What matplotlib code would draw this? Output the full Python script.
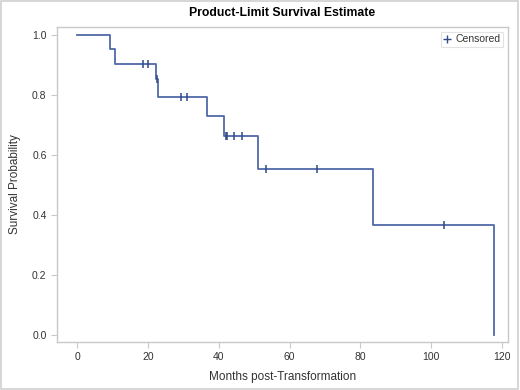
import matplotlib

matplotlib.use("Agg")
import matplotlib.pyplot as plt
from matplotlib.patches import Rectangle

# Kaplan-Meier step curve
STEP_TIMES = [0, 9.3, 10.7, 22.2, 22.8, 36.7, 41.6, 51.1, 83.7, 117.6]
STEP_SURV = [1.0, 0.953, 0.905, 0.852, 0.795, 0.729, 0.663, 0.552, 0.368, 0.0]
CENSOR_TIMES = [18.7, 20.0, 22.5, 29.3, 31.1, 42.0, 42.3, 44.4, 46.7, 53.4, 67.8, 103.5]
CENSOR_SURV = [0.905, 0.905, 0.852, 0.795, 0.795, 0.663, 0.663, 0.663, 0.663, 0.552, 0.552, 0.368]
X_TICKS = [0, 20, 40, 60, 80, 100, 120]
Y_TICKS = [0.0, 0.2, 0.4, 0.6, 0.8, 1.0]

LINE = "#5069a8"
MARK = "#2f4a86"
FRAME = "#c8c8c8"
TEXT = "#333333"

plt.rcParams["font.family"] = ["Liberation Sans", "DejaVu Sans"]

fig = plt.figure(figsize=(5.2, 3.9), dpi=100)
fig.patches.append(Rectangle((0.002, 0.003), 0.995, 0.994, transform=fig.transFigure,
                             fill=False, edgecolor="#d0d0d0", linewidth=1.2))
ax = fig.add_axes([0.1096, 0.123, 0.8674, 0.8078])

ax.step(STEP_TIMES, STEP_SURV, where="post", color=LINE, linewidth=1.3)
ax.plot(CENSOR_TIMES, CENSOR_SURV, linestyle="none", marker="|", markersize=6,
        markeredgewidth=1.1, color=MARK, label="Censored")

ax.set_xlim(-5.65, 121.7)
ax.set_ylim(-0.0233, 1.0267)
ax.set_xticks(X_TICKS)
ax.set_yticks(Y_TICKS)
ax.set_yticklabels([f"{v:.1f}" for v in Y_TICKS])
ax.tick_params(colors=FRAME, labelcolor=TEXT, labelsize=7.5, length=4, width=0.8)
for spine in ax.spines.values():
    spine.set_color(FRAME)
    spine.set_linewidth(1.0)

ax.set_xlabel("Months post-Transformation", fontsize=8.5, color=TEXT, labelpad=6)
ax.set_ylabel("Survival Probability", fontsize=8.5, color=TEXT, labelpad=8)
fig.suptitle("Product-Limit Survival Estimate", fontsize=8.8, fontweight="bold",
             y=0.982, x=0.543)

handle = plt.Line2D([], [], linestyle="none", marker="+", markersize=5.5,
                    markeredgewidth=1.0, color=MARK)
leg = ax.legend([handle], ["Censored"], loc="upper right", fontsize=7.5,
                frameon=True, fancybox=False, edgecolor="#dddddd", borderpad=0.25,
                handlelength=0.8, handletextpad=0.4, borderaxespad=0.45)
leg.get_frame().set_linewidth(0.8)
for t in leg.get_texts():
    t.set_color(TEXT)

fig.savefig("out.png", dpi=100)
